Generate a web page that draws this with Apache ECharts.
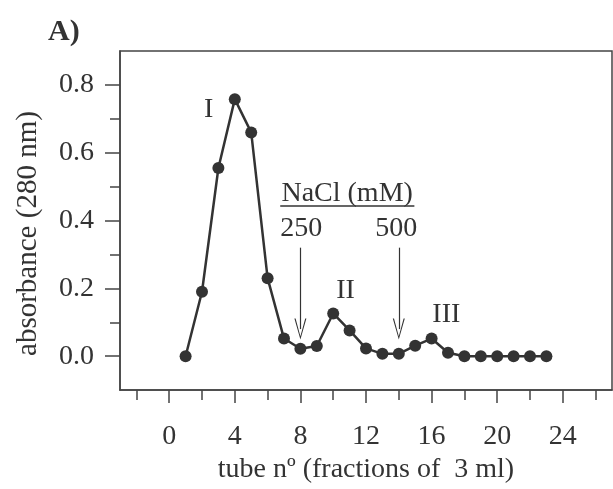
<!DOCTYPE html>
<html>
<head>
<meta charset="utf-8">
<script src="https://cdn.jsdelivr.net/npm/echarts@6/dist/echarts.min.js"></script>
<style>
  html, body { margin: 0; padding: 0; background: #fff; }
  #chart { width: 613px; height: 489px; }
</style>
</head>
<body>
<div id="chart"></div>
<script>
// Elution profile: tube number vs absorbance at 280 nm
const tubes = [1, 2, 3, 4, 5, 6, 7, 8, 9, 10, 11, 12, 13, 14, 15, 16, 17, 18, 19, 20, 21, 22, 23];
const absorbance = [0.0, 0.19, 0.555, 0.758, 0.66, 0.23, 0.052, 0.022, 0.03, 0.126, 0.076, 0.023,
  0.007, 0.007, 0.031, 0.052, 0.01, 0.0, 0.0, 0.0, 0.0, 0.0, 0.0];

// axis ticks
const xLabelTicks = [0, 4, 8, 12, 16, 20, 24];
const xMinorTicks = [-2, 2, 6, 10, 14, 18, 22, 26];
const yLabelTicks = [0, 0.2, 0.4, 0.6, 0.8];
const yMinorTicks = [0.1, 0.3, 0.5, 0.7];

// peaks and NaCl steps
const peakNames = ['I', 'II', 'III'];
const saltSteps = ['250', '500'];
const saltTubes = [8, 14];

const FONT = 'Liberation Serif';
const INK = '#333';

// annotation placement (data coordinates)
const peakPos = [[2.4, 0.726], [10.75, 0.193], [16.9, 0.123]];
const saltLabelY = 0.376;
const saltLabelX = [8.05, 13.85];

const chart = echarts.init(document.getElementById('chart'));

const arrowHead = 'path://M6,0 L12,20 L10.8,20 L6,3.2 L1.2,20 L0,20 Z';

const textPoints = peakNames.map((n, i) => [peakPos[i][0], peakPos[i][1], n])
  .concat(saltSteps.map((s, i) => [saltLabelX[i], saltLabelY, s]))
  .concat([[10.85, 0.479, 'NaCl (mM)']]);

const axisStyle = { color: '#444', width: 1.5 };

const option = {
  animation: false,
  backgroundColor: '#fff',
  title: {
    text: 'A)',
    left: 43,
    top: 12,
    textStyle: { fontFamily: FONT, fontSize: 30, fontWeight: 'bold', color: INK }
  },
  grid: {
    left: 120, top: 51, right: 1, bottom: 97,
    show: true, borderColor: '#444', borderWidth: 1.5, backgroundColor: 'transparent'
  },
  xAxis: [{
    type: 'value', min: -3, max: 27, position: 'bottom',
    name: 'tube n\u00ba (fractions of  3 ml)',
    nameLocation: 'middle', nameGap: 55,
    nameTextStyle: { fontFamily: FONT, fontSize: 28, color: INK },
    splitLine: { show: false },
    axisLine: { onZero: false, lineStyle: axisStyle },
    axisTick: { customValues: xLabelTicks, length: 13, lineStyle: axisStyle },
    axisLabel: { customValues: xLabelTicks, margin: 33, fontFamily: FONT, fontSize: 28, color: INK }
  }, {
    type: 'value', min: -3, max: 27, position: 'bottom',
    splitLine: { show: false },
    axisLine: { show: false, onZero: false },
    axisTick: { customValues: xMinorTicks, length: 10, lineStyle: axisStyle },
    axisLabel: { show: false }
  }],
  yAxis: [{
    type: 'value', min: -0.1, max: 0.9, position: 'left',
    name: 'absorbance (280 nm)',
    nameLocation: 'middle', nameGap: 77, nameRotate: 90,
    nameTextStyle: { fontFamily: FONT, fontSize: 29, color: INK, padding: [0, 26, 0, 0] },
    splitLine: { show: false },
    axisLine: { onZero: false, lineStyle: axisStyle },
    axisTick: { customValues: yLabelTicks, length: 15, lineStyle: axisStyle },
    axisLabel: {
      customValues: yLabelTicks, margin: 26, fontFamily: FONT, fontSize: 28, color: INK,
      formatter: v => v.toFixed(1)
    }
  }, {
    type: 'value', min: -0.1, max: 0.9, position: 'left',
    splitLine: { show: false },
    axisLine: { show: false, onZero: false },
    axisTick: { customValues: yMinorTicks, length: 10, lineStyle: axisStyle },
    axisLabel: { show: false }
  }],
  series: [{
    type: 'line',
    data: tubes.map((t, i) => [t, absorbance[i]]),
    symbol: 'circle',
    symbolSize: 12,
    itemStyle: { color: INK },
    lineStyle: { color: INK, width: 2.5 },
    silent: true
  }, {
    type: 'scatter',
    data: textPoints,
    symbolSize: 0,
    silent: true,
    itemStyle: { opacity: 1, color: INK },
    label: {
      show: true, position: [0, 0], align: 'center', verticalAlign: 'middle',
      formatter: p => p.data[2], opacity: 1,
      fontFamily: FONT, fontSize: 28, color: INK, textBorderWidth: 0
    },
    markLine: {
      silent: true,
      symbol: ['none', arrowHead],
      symbolSize: [12, 21],
      lineStyle: { color: INK, width: 1.2, type: 'solid', opacity: 1 },
      label: { show: false },
      data: saltTubes.map(t => [{ coord: [t, 0.32] }, { coord: [t, 0.08] }])
    }
  }, {
    type: 'scatter',
    data: [],
    silent: true,
    markLine: {
      silent: true,
      symbol: ['none', 'none'],
      lineStyle: { color: INK, width: 1.5, type: 'solid', opacity: 1 },
      label: { show: false },
      data: [[{ coord: [6.77, 0.443] }, { coord: [14.95, 0.443] }]]
    }
  }]
};

chart.setOption(option);
</script>
</body>
</html>
